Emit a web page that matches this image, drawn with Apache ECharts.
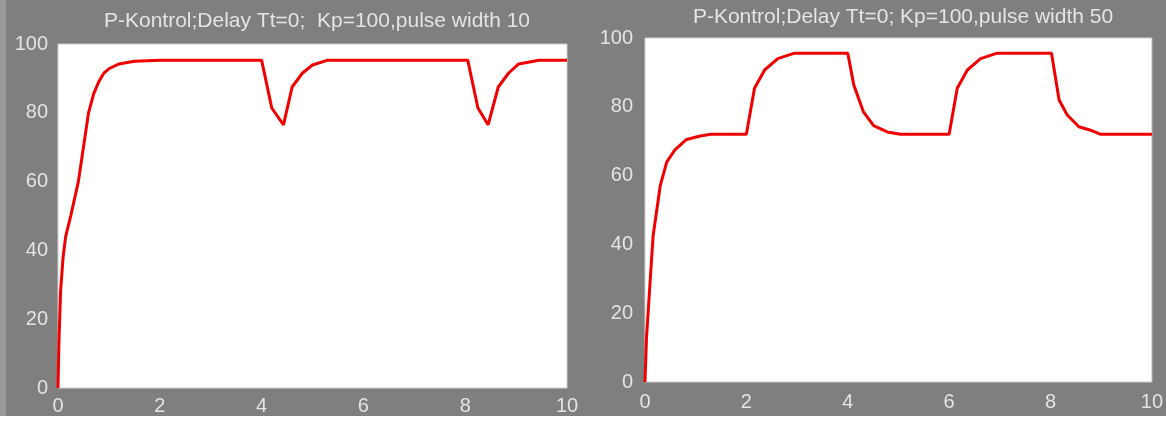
<!DOCTYPE html>
<html>
<head>
<meta charset="utf-8">
<script src="https://cdn.jsdelivr.net/npm/echarts@6/dist/echarts.min.js"></script>
<style>
html,body{margin:0;padding:0;background:#fff;}
#chart{width:1166px;height:421px;}
</style>
</head>
<body>
<div id="chart"></div>
<script>
// ---- data ----
var titleLeft = 'P-Kontrol;Delay Tt=0;  Kp=100,pulse width 10';
var titleRight = 'P-Kontrol;Delay Tt=0; Kp=100,pulse width 50';
var xTicks = [0, 2, 4, 6, 8, 10];
var yTicks = [0, 20, 40, 60, 80, 100];

var leftT = [0, 0.02, 0.05, 0.1, 0.15, 0.25, 0.4, 0.5, 0.6, 0.7, 0.8, 0.9, 1.0, 1.2, 1.5, 2.0,
             4.0, 4.2, 4.43, 4.6, 4.8, 5.0, 5.3,
             8.05, 8.25, 8.45, 8.65, 8.85, 9.05, 9.45, 10];
var leftV = [0, 14, 28, 38, 44, 50, 60, 70, 80, 85.5, 89, 91.5, 92.8, 94.2, 95, 95.3,
             95.3, 81.4, 76.5, 87.5, 91.5, 93.9, 95.3,
             95.3, 81.4, 76.5, 87.5, 91.5, 94.2, 95.3, 95.3];

var rightT = [0, 0.03, 0.1, 0.16, 0.3, 0.43, 0.59, 0.82, 1.09, 1.3, 2.0,
              2.16, 2.36, 2.62, 2.95, 4.0,
              4.12, 4.31, 4.51, 4.78, 5.04, 6.0,
              6.16, 6.36, 6.62, 6.95, 8.02,
              8.17, 8.33, 8.56, 8.79, 8.99, 10];
var rightV = [0, 13, 29, 42.5, 57, 64, 67.5, 70.5, 71.5, 72, 72,
              85.4, 90.7, 94, 95.6, 95.6,
              86.3, 78.5, 74.5, 72.7, 72, 72,
              85.4, 90.7, 94, 95.6, 95.6,
              82, 77.6, 74.2, 73.2, 72, 72];

function pairs(t, v) { return t.map(function (x, i) { return [x, v[i]]; }); }

var FONT = 'Liberation Sans';
var TXT = '#e4e4e4';
var GRAY = '#7f7f7f';

function xAxis(gi, margin) {
  return {
    type: 'value', gridIndex: gi, min: xTicks[0], max: xTicks[xTicks.length - 1], interval: 2,
    axisLine: {show: false}, axisTick: {show: false}, splitLine: {show: false},
    axisLabel: {color: TXT, fontSize: 20, fontFamily: FONT, margin: margin,
      showMinLabel: true, showMaxLabel: true}
  };
}
function yAxis(gi, margin) {
  return {
    type: 'value', gridIndex: gi, min: yTicks[0], max: yTicks[yTicks.length - 1], interval: 20,
    axisLine: {show: false}, axisTick: {show: false}, splitLine: {show: false},
    axisLabel: {color: TXT, fontSize: 20, fontFamily: FONT, margin: margin,
      padding: [0, 0, 8, 0], showMinLabel: true, showMaxLabel: true}
  };
}

var chart = echarts.init(document.getElementById('chart'), null, {renderer: 'canvas'});
chart.setOption({
  backgroundColor: GRAY,
  animation: false,
  graphic: [
    {type: 'rect', shape: {x: 0, y: 416, width: 1166, height: 5}, style: {fill: '#ffffff'}, z: -1},
    {type: 'rect', shape: {x: 0, y: 0, width: 6, height: 416}, style: {fill: '#9a9a9a'}, z: -1}
  ],
  title: [
    {text: titleLeft, left: 312, top: 6, textAlign: 'center',
     textStyle: {color: TXT, fontSize: 21, fontWeight: 'normal', fontFamily: FONT}},
    {text: titleRight, left: 898, top: 2, textAlign: 'center',
     textStyle: {color: TXT, fontSize: 21, fontWeight: 'normal', fontFamily: FONT}}
  ],
  grid: [
    {left: 58, top: 44, width: 509, height: 344, show: true, backgroundColor: '#ffffff',
     borderColor: '#d0d0d0', borderWidth: 1},
    {left: 645, top: 38, width: 507, height: 344, show: true, backgroundColor: '#ffffff',
     borderColor: '#d0d0d0', borderWidth: 1}
  ],
  xAxis: [xAxis(0, 8), xAxis(1, 10)],
  yAxis: [yAxis(0, 10), yAxis(1, 12)],
  series: [
    {type: 'line', xAxisIndex: 0, yAxisIndex: 0, data: pairs(leftT, leftV),
     showSymbol: false, smooth: false, lineStyle: {color: '#f00000', width: 3}},
    {type: 'line', xAxisIndex: 1, yAxisIndex: 1, data: pairs(rightT, rightV),
     showSymbol: false, smooth: false, lineStyle: {color: '#f00000', width: 3}}
  ]
});
</script>
</body>
</html>
